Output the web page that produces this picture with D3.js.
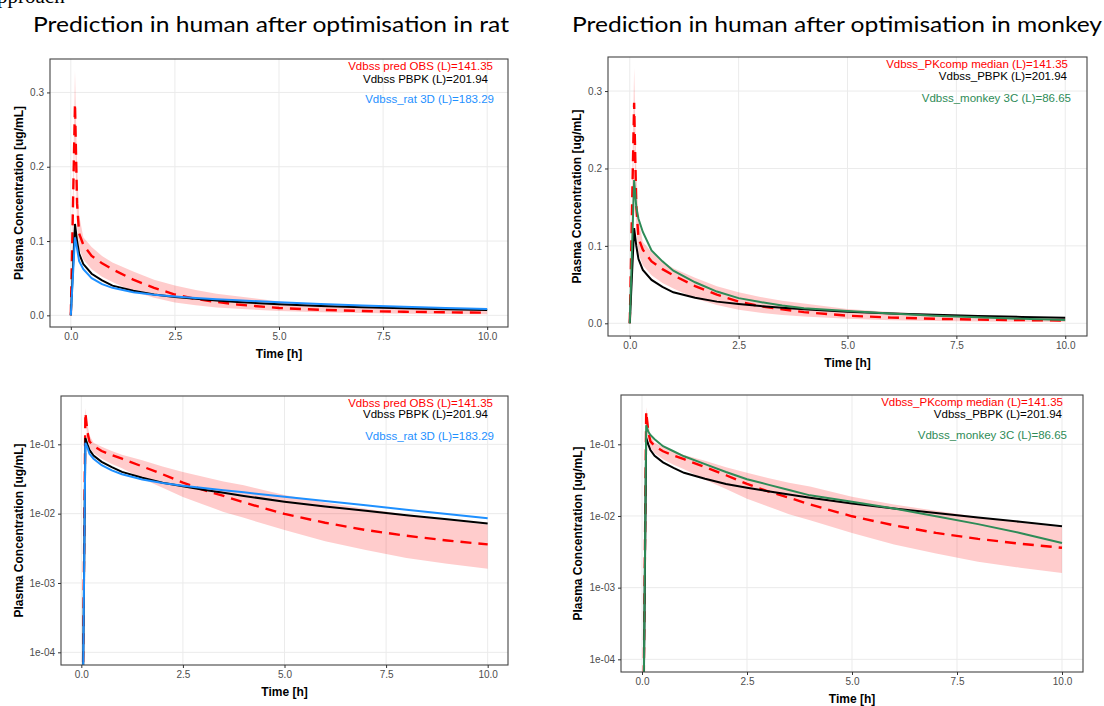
<!DOCTYPE html>
<html>
<head>
<meta charset="utf-8">
<script src="https://cdn.jsdelivr.net/npm/d3@7"></script>
<style>
  body { margin: 0; background: #fff; }
  svg { display: block; }
</style>
</head>
<body>
<div id="chart-area"></div>
<script>
var width = 1104;
var height = 706;

// Data (time in h, concentration in ug/mL)
var times     = [0, 0.1, 0.15, 0.2, 0.3, 0.5, 0.75, 1, 1.5, 2, 2.5, 3, 3.5, 4, 5, 6, 7, 8, 9, 10];
var medianObs = [0, 0.285, 0.15, 0.11, 0.095, 0.08, 0.07, 0.062, 0.048, 0.037, 0.028, 0.022, 0.018, 0.0145, 0.0099, 0.0074, 0.0058, 0.0048, 0.0041, 0.0036];
var ribbonLow = [0, 0.24, 0.12, 0.09, 0.075, 0.062, 0.052, 0.045, 0.032, 0.0237, 0.0174, 0.0136, 0.0106, 0.0087, 0.0058, 0.0040, 0.0030, 0.0023, 0.0019, 0.0016];
var ribbonHigh = [0, 0.33, 0.2, 0.135, 0.105, 0.092, 0.08, 0.071, 0.059, 0.048, 0.040, 0.034, 0.029, 0.0257, 0.0186, 0.0145, 0.0118, 0.0097, 0.0081, 0.0069];
var pbpk      = [0, 0.123, 0.1, 0.083, 0.069, 0.056, 0.047, 0.040, 0.033, 0.028, 0.0248, 0.0222, 0.020, 0.018, 0.0149, 0.0127, 0.011, 0.0095, 0.0083, 0.0072];
var rat3D     = [0, 0.105, 0.09, 0.073, 0.062, 0.050, 0.042, 0.037, 0.031, 0.0277, 0.0253, 0.0234, 0.0217, 0.0203, 0.0175, 0.0152, 0.0132, 0.0114, 0.0099, 0.0086];
var monkey3C  = [0, 0.185, 0.15, 0.135, 0.118, 0.094, 0.08, 0.068, 0.053, 0.041, 0.0325, 0.0274, 0.023, 0.0194, 0.0158, 0.0127, 0.0099, 0.0077, 0.0058, 0.0042];

var timeTicks = [0, 2.5, 5, 7.5, 10];
var linTicks = [0, 0.1, 0.2, 0.3];
var logTicks = [1e-1, 1e-2, 1e-3, 1e-4];
var logTickLabels = ["1e-01", "1e-02", "1e-03", "1e-04"];

var titles = ["Prediction in human after optimisation in rat", "Prediction in human after optimisation in monkey"];
var ratLabels = ["Vdbss pred OBS (L)=141.35", "Vdbss PBPK (L)=201.94", "Vdbss_rat 3D (L)=183.29"];
var monkeyLabels = ["Vdbss_PKcomp median (L)=141.35", "Vdbss_PBPK (L)=201.94", "Vdbss_monkey 3C (L)=86.65"];

var red = "#ff0000", blue = "#1e90ff", green = "#2e8b57";

var svg = d3.select('#chart-area').append('svg')
            .attr('width', width)
            .attr('height', height);

// heading of the page above, mostly cut off by the top edge
svg.append('text')
   .attr('x', -3).attr('y', 3)
   .attr('font-family', 'Liberation Serif')
   .attr('font-size', '21px')
   .text('pproach');

svg.append('text')
   .attr('x', 33).attr('y', 32)
   .attr('font-family', 'Lato')
   .attr('font-size', '22px')
   .attr('textLength', 476).attr('lengthAdjust', 'spacingAndGlyphs')
   .text(titles[0]);
svg.append('text')
   .attr('x', 572).attr('y', 32)
   .attr('font-family', 'Lato')
   .attr('font-size', '22px')
   .attr('textLength', 530).attr('lengthAdjust', 'spacingAndGlyphs')
   .text(titles[1]);

var panels = [
  {id: 'tl', left: 50, right: 508, top: 59, bottom: 327, log: false, yDomain: [-0.0157, 0.345], third: rat3D, thirdColor: blue, labels: ratLabels, lab: [[-15, 7], [-20, 20], [-14, 40]], yTitleOff: 31},
  {id: 'tr', left: 608, right: 1087, top: 57, bottom: 336, log: false, yDomain: [-0.0164, 0.344], third: monkey3C, thirdColor: green, labels: monkeyLabels, lab: [[-19, 7], [-20, 19], [-16, 41]], yTitleOff: 31},
  {id: 'bl', left: 61, right: 508, top: 396, bottom: 665, log: true, yDomain: [Math.pow(10, -4.183), Math.pow(10, -0.303)], third: rat3D, thirdColor: blue, labels: ratLabels, lab: [[-15, 7], [-20, 18], [-14, 40]], yTitleOff: 42},
  {id: 'br', left: 621, right: 1083, top: 395, bottom: 672, log: true, yDomain: [Math.pow(10, -4.177), Math.pow(10, -0.312)], third: monkey3C, thirdColor: green, labels: monkeyLabels, lab: [[-20, 7], [-21, 19], [-16, 40]], yTitleOff: 43}
];

panels.forEach(function(p) {
  var innerWidth = p.right - p.left;
  var innerHeight = p.bottom - p.top;
  var g = svg.append('g').attr('transform', 'translate(' + p.left + ',' + p.top + ')');

  var xScale = d3.scaleLinear().domain([-0.5, 10.5]).range([0, innerWidth]);
  var yScale = p.log ? d3.scaleLog().domain(p.yDomain).range([innerHeight, 0])
                     : d3.scaleLinear().domain(p.yDomain).range([innerHeight, 0]);
  // zero can not go on a log axis: push it far below the panel, the clip cuts it
  var yv = function(v) { return p.log ? yScale(Math.max(v, 1e-7)) : yScale(v); };

  g.append('clipPath').attr('id', 'clip-' + p.id)
   .append('rect').attr('width', innerWidth).attr('height', innerHeight);

  // grid
  var yTickVals = p.log ? logTicks : linTicks;
  g.selectAll('.gy').data(yTickVals).enter().append('line')
   .attr('x1', 0).attr('x2', innerWidth)
   .attr('y1', function(d) { return yScale(d); }).attr('y2', function(d) { return yScale(d); })
   .attr('stroke', '#ebebeb').attr('stroke-width', 1);
  g.selectAll('.gx').data(timeTicks).enter().append('line')
   .attr('y1', 0).attr('y2', innerHeight)
   .attr('x1', function(d) { return xScale(d); }).attr('x2', function(d) { return xScale(d); })
   .attr('stroke', '#ebebeb').attr('stroke-width', 1);

  var plot = g.append('g').attr('clip-path', 'url(#clip-' + p.id + ')');

  var area = d3.area()
               .x(function(d, i) { return xScale(times[i]); })
               .y0(function(d, i) { return yv(ribbonLow[i]); })
               .y1(function(d, i) { return yv(ribbonHigh[i]); });
  plot.append('path').attr('d', area(times))
      .attr('fill', red).attr('fill-opacity', 0.2);

  var line = function(values) {
    return d3.line()
             .x(function(d, i) { return xScale(times[i]); })
             .y(function(d) { return yv(d); })(values);
  };

  plot.append('path').attr('d', line(medianObs))
      .attr('fill', 'none').attr('stroke', red).attr('stroke-width', 2.4)
      .attr('stroke-dasharray', '11,7');
  plot.append('path').attr('d', line(pbpk))
      .attr('fill', 'none').attr('stroke', '#000').attr('stroke-width', 2);
  plot.append('path').attr('d', line(p.third))
      .attr('fill', 'none').attr('stroke', p.thirdColor).attr('stroke-width', 2);

  // border
  g.append('rect').attr('width', innerWidth).attr('height', innerHeight)
   .attr('fill', 'none').attr('stroke', '#444').attr('stroke-width', 1.1);

  // axes
  var xAxis = d3.axisBottom(xScale).tickValues(timeTicks).tickFormat(d3.format('.1f'))
                .tickSize(3).tickPadding(3);
  var yAxis = d3.axisLeft(yScale).tickValues(yTickVals).tickSize(3).tickPadding(3)
                .tickFormat(function(d, i) { return p.log ? logTickLabels[i] : d3.format('.1f')(d); });
  var xAxisG = g.append('g').attr('transform', 'translate(0,' + innerHeight + ')').call(xAxis);
  var yAxisG = g.append('g').call(yAxis);
  [xAxisG, yAxisG].forEach(function(a) {
    a.select('.domain').remove();
    a.selectAll('line').attr('stroke', '#333');
    a.selectAll('text').attr('fill', '#4d4d4d')
     .attr('font-family', 'Liberation Sans').attr('font-size', '10px');
  });

  g.append('text')
   .attr('x', innerWidth / 2).attr('y', innerHeight + 31)
   .attr('text-anchor', 'middle')
   .attr('font-family', 'Liberation Sans').attr('font-weight', 'bold').attr('font-size', '12px')
   .text('Time [h]');
  g.append('text')
   .attr('transform', 'rotate(-90)')
   .attr('x', -innerHeight / 2).attr('y', -p.yTitleOff + 4)
   .attr('text-anchor', 'middle')
   .attr('font-family', 'Liberation Sans').attr('font-weight', 'bold').attr('font-size', '12px')
   .text('Plasma Concentration [ug/mL]');

  var labColors = [red, '#000', p.thirdColor];
  p.labels.forEach(function(l, i) {
    g.append('text')
     .attr('x', innerWidth + p.lab[i][0]).attr('y', p.lab[i][1])
     .attr('dy', '0.35em')
     .attr('text-anchor', 'end')
     .attr('fill', labColors[i])
     .attr('font-family', 'Liberation Sans').attr('font-size', '11.5px')
     .text(l);
  });
});
</script>
</body>
</html>
